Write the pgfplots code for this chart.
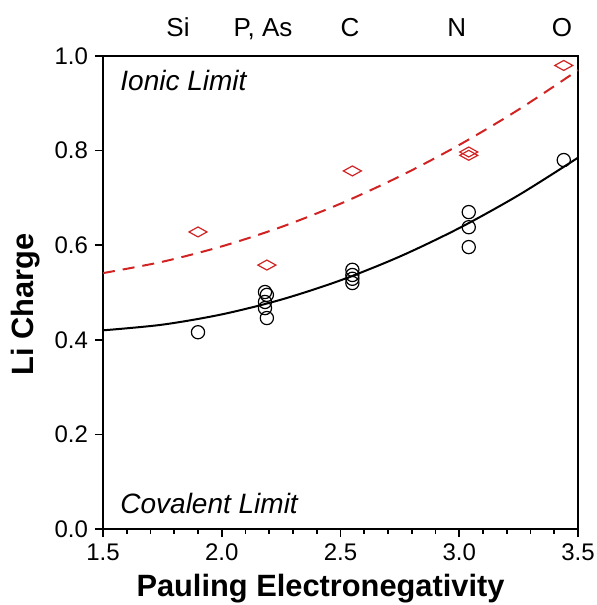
\documentclass[border=0pt]{standalone}
\usepackage{fontspec}
\setmainfont{Liberation Sans}
\usepackage{pgfplots}
\pgfplotsset{compat=1.18}
\definecolor{myred}{RGB}{210,35,35}
\begin{document}
\begin{tikzpicture}
\path[use as bounding box] (-51.5pt,-38pt) rectangle (247pt,264.5pt);
\begin{axis}[
  at={(0,0)}, anchor=south west,
  width=237.5pt, height=236.5pt, scale only axis,
  xmin=1.5, xmax=3.5, ymin=0, ymax=1,
  xtick={1.5,2.0,2.5,3.0,3.5},
  ytick={0,0.2,0.4,0.6,0.8,1.0},
  minor x tick num=4,
  xtick pos=bottom, ytick pos=left,
  tick align=outside,
  major tick length=4pt, minor tick length=2.5pt,
  every tick/.style={black, line width=0.8pt},
  axis line style={line width=1pt},
  /pgf/number format/assume math mode=true,
  /pgf/number format/fixed, /pgf/number format/fixed zerofill, /pgf/number format/precision=1,
  ticklabel style={font=\fontsize{12}{14}\selectfont},
  xlabel={\bfseries Pauling Electronegativity},
  ylabel={\bfseries Li Charge},
  label style={font=\fontsize{15.4}{17}\selectfont},
  xlabel style={yshift=0.3pt, xshift=-10pt},
  ylabel style={yshift=0.5pt, xshift=-6pt},
  clip=false,
]
% fitted curves
\addplot[black, line width=1pt, smooth] coordinates {
 (1.5,0.420) (1.75,0.432) (2.0,0.4537) (2.25,0.4849) (2.5,0.5257) (2.75,0.5761) (3.0,0.6362) (3.25,0.7058) (3.5,0.785)};
\addplot[myred, line width=1pt, smooth, dash pattern=on 6pt off 4pt] coordinates {
 (1.5,0.541) (1.75,0.565) (2.0,0.5975) (2.25,0.6384) (2.5,0.6878) (2.75,0.7457) (3.0,0.812) (3.25,0.8867) (3.5,0.970)};
% circles
\addplot[only marks, mark=o, mark size=3.3pt, mark options={black, line width=0.6pt, fill=white}] coordinates {
 (1.90,0.416)
 (2.182,0.501) (2.19,0.495) (2.182,0.480) (2.182,0.467) (2.19,0.446)
 (2.55,0.548) (2.55,0.537) (2.55,0.529) (2.55,0.520)
 (3.04,0.670) (3.04,0.638) (3.04,0.596)
 (3.44,0.780)};
% diamonds
\addplot[only marks, mark=diamond, mark size=3pt, mark options={myred, line width=0.6pt, xscale=2, yscale=0.83}] coordinates {
 (1.90,0.628) (2.19,0.558) (2.55,0.757) (3.04,0.797) (3.04,0.790) (3.44,0.980)};
% element labels
\begin{scope}[every node/.style={font=\fontsize{13}{15}\selectfont, anchor=base}]
\node at ([yshift=9.5pt]axis cs:1.816,1) {Si};
\node at ([yshift=9.5pt]axis cs:2.174,1) {P, As};
\node at ([yshift=9.5pt]axis cs:2.54,1) {C};
\node at ([yshift=9.5pt]axis cs:2.99,1) {N};
\node at ([yshift=9.5pt]axis cs:3.433,1) {O};
\end{scope}
\node[anchor=west, font=\fontsize{14}{16}\selectfont\itshape, inner sep=0pt] at ([xshift=8.5pt,yshift=-12pt]rel axis cs:0,1) {Ionic Limit};
\node[anchor=west, font=\fontsize{14}{16}\selectfont\itshape, inner sep=0pt] at ([xshift=8.5pt,yshift=13pt]rel axis cs:0,0) {Covalent Limit};
\end{axis}
\end{tikzpicture}
\end{document}
